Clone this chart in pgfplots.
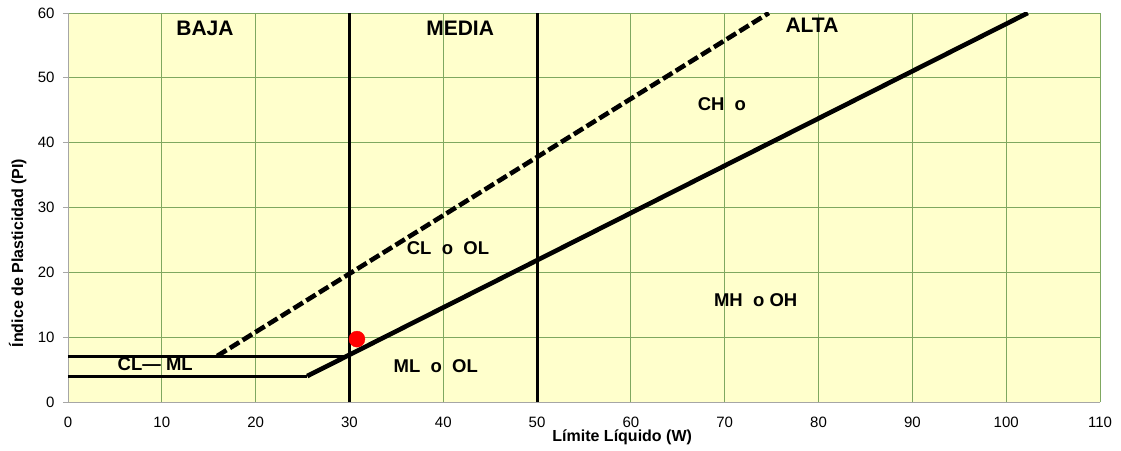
\documentclass[border=0pt]{standalone}
\usepackage{pgfplots}
\pgfplotsset{compat=1.18}
\usepackage{fontspec}
\setmainfont{Liberation Sans}
\definecolor{bgyel}{HTML}{FFFFCC}
\definecolor{gridgreen}{HTML}{7FA860}
\begin{document}
\begin{tikzpicture}
\path[use as bounding box] (-68pt,-48pt) rectangle (1053pt,402pt);
\begin{axis}[
  at={(0,0)}, anchor=origin,
  scale only axis, width=1032pt, height=389pt,
  xmin=0, xmax=110, ymin=0, ymax=60,
  xtick={0,10,...,110}, ytick={0,10,...,60},
  grid=major,
  major grid style={gridgreen, line width=0.9pt},
  axis background/.style={fill=bgyel},
  axis lines=left,
  axis line style={-, gray!70, line width=0.9pt},
  tick align=outside, major tick length=5pt,
  ytick style={gray!70, line width=0.9pt},
  xtick style={draw=none},
  /pgf/number format/assume math mode=true,
  tick label style={font=\fontsize{15}{17}\selectfont},
  xticklabel style={inner sep=1pt, yshift=-9pt},
  yticklabel style={xshift=-5pt},
  xlabel={\textbf{Límite Líquido (W)}},
  ylabel={\textbf{Índice de Plasticidad (PI)}},
  label style={font=\fontsize{16}{18}\selectfont},
  xlabel style={at={(axis description cs:0.537,0)}, anchor=north, inner sep=1pt, yshift=-27pt},
  ylabel style={at={(axis description cs:0,0.383)}, anchor=south, yshift=38pt},
  clip=true,
]
% vertical divisions
\addplot[black, line width=3pt] coordinates {(30,0) (30,60)};
\addplot[black, line width=3pt] coordinates {(50,0) (50,60)};
% A-line
\addplot[black, line width=4.6pt] coordinates {(25.5,4) (102.3,60)};
% U-line (dashed)
\addplot[black, line width=4.6pt, dash pattern=on 11pt off 4pt] coordinates {(15.9,7.1) (74.7,60)};
% horizontal lines
\addplot[black, line width=3pt] coordinates {(0,7) (29.6,7)};
\addplot[black, line width=3pt] coordinates {(0,4) (25.5,4)};
% sample point
\addplot[only marks, mark=*, mark size=8pt, red, mark options={draw=red, fill=red}] coordinates {(30.8,9.7)};
% labels
\node[font=\fontsize{21}{24}\selectfont\bfseries] at (axis cs:14.6,57.7) {BAJA};
\node[font=\fontsize{21}{24}\selectfont\bfseries] at (axis cs:41.8,57.7) {MEDIA};
\node[font=\fontsize{21}{24}\selectfont\bfseries] at (axis cs:79.3,58.1) {ALTA};
\node[font=\fontsize{18.5}{20}\selectfont\bfseries] at (axis cs:69.7,46.0) {CH\ \ o};
\node[font=\fontsize{18.5}{20}\selectfont\bfseries] at (axis cs:40.5,23.8) {CL\ \ o\ \ OL};
\node[font=\fontsize{18.5}{20}\selectfont\bfseries] at (axis cs:73.3,15.7) {MH\ \ o OH};
\node[font=\fontsize{18.5}{20}\selectfont\bfseries] at (axis cs:39.2,5.5) {ML\ \ o\ \ OL};
\node[font=\fontsize{18.5}{20}\selectfont\bfseries] at (axis cs:9.3,5.9) {CL— ML};
\end{axis}
\end{tikzpicture}
\end{document}
